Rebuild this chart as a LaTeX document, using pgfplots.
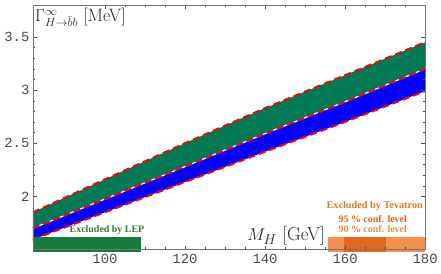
\documentclass[border=0pt]{standalone}
\usepackage{pgfplots}
\pgfplotsset{compat=1.18}
\usepackage{fontspec}
\newfontfamily\monof{Liberation Mono}
\newfontfamily\tnr{Liberation Serif}
\definecolor{bandgreen}{HTML}{007A55}
\definecolor{bandblue}{HTML}{0000FF}
\definecolor{lepgreen}{HTML}{167C3E}
\definecolor{leptext}{HTML}{2E7D3A}
\definecolor{tevlight}{HTML}{F2904C}
\definecolor{tevdark}{HTML}{E5661E}
\definecolor{tevtext}{HTML}{E07A22}
\definecolor{tev95}{HTML}{E85E1A}
\definecolor{tev90}{HTML}{F08848}
\begin{document}
\begin{tikzpicture}
\begin{axis}[
  scale only axis, width=393bp, height=245bp,
  xmin=82, xmax=180, ymin=1.5, ymax=3.8,
  xtick={100,120,140,160,180}, ytick={2,2.5,3,3.5},
  minor x tick num=3, minor y tick num=4,
  tick align=inside, major tick length=4bp, minor tick length=2.5bp,
  axis line style={black!55}, tick style={black!70},
  /pgf/number format/assume math mode=true,
  ticklabel style={font=\monof\fontsize{14}{15}\selectfont, text=black!70},
  xticklabel style={yshift=-1bp},
  yticklabel style={xshift=0bp},
  axis on top, clip=false,
]
% green band (mid to top)
\addplot[fill=bandgreen, draw=none] coordinates {
 (82,1.85) (100,2.16) (120,2.50) (140,2.83) (160,3.14) (180,3.45)
 (180,3.20) (160,2.89) (140,2.59) (120,2.28) (100,1.975) (82,1.70)} -- cycle;
% blue band (bottom to mid)
\addplot[fill=bandblue, draw=none] coordinates {
 (82,1.70) (100,1.975) (120,2.28) (140,2.59) (160,2.89) (180,3.20)
 (180,2.99) (160,2.70) (140,2.42) (120,2.135) (100,1.85) (82,1.595)} -- cycle;
% dark strip under the blue band at the far left
\addplot[fill=black, draw=none] coordinates {
 (82,1.565) (86,1.605) (82,1.60)} -- cycle;
% dashed edges
\addplot[red, line width=2bp, dash pattern=on 7bp off 4bp] coordinates {
 (82,1.85) (100,2.16) (120,2.50) (140,2.83) (160,3.14) (180,3.45)};
\addplot[white, line width=1.2bp] coordinates {
 (82,1.70) (100,1.975) (120,2.28) (140,2.59) (160,2.89) (180,3.20)};
\addplot[red, line width=2bp, dash pattern=on 7bp off 4bp] coordinates {
 (82,1.70) (100,1.975) (120,2.28) (140,2.59) (160,2.89) (180,3.20)};
\addplot[red, line width=2bp, dash pattern=on 7bp off 4bp] coordinates {
 (82,1.595) (100,1.85) (120,2.135) (140,2.42) (160,2.70) (180,2.99)};
% exclusion bars
\addplot[fill=lepgreen, draw=none] coordinates {(82,1.475) (109,1.475) (109,1.618) (82,1.618)} -- cycle;
\addplot[fill=tevlight, draw=none] coordinates {(155.8,1.475) (180,1.475) (180,1.618) (155.8,1.618)} -- cycle;
\addplot[fill=tevdark, draw=none] coordinates {(159.8,1.475) (170.2,1.475) (170.2,1.618) (159.8,1.618)} -- cycle;
% labels
\node[anchor=north west, inner sep=0pt, text=black!85, font=\fontsize{18}{20}\selectfont]
  at (axis cs:82,3.8) [xshift=2bp, yshift=-3bp] {$\Gamma^{\infty}_{H\to\bar{b}b}$ [MeV]};
\node[anchor=base east, inner sep=0pt, text=black!85, font=\fontsize{19}{21}\selectfont]
  at (axis cs:155,1.585) {$M_H$ [GeV]};
\node[text=leptext, font=\tnr\bfseries\fontsize{10}{11}\selectfont, inner sep=0pt]
  at (axis cs:100.5,1.68) {Excluded by LEP};
\node[text=tevtext, font=\tnr\bfseries\fontsize{10.3}{11}\selectfont, inner sep=0pt]
  at (axis cs:167.4,1.908) {Excluded by Tevatron};
\node[text=tev95, font=\tnr\bfseries\fontsize{10}{11}\selectfont, inner sep=0pt]
  at (axis cs:166.9,1.783) {95 \% conf. level};
\node[text=tev90, font=\tnr\bfseries\fontsize{10}{11}\selectfont, inner sep=0pt]
  at (axis cs:166.9,1.695) {90 \% conf. level};
\end{axis}
\path (current axis.south west) ++(-33bp,-24bp) coordinate (bbA);
\path (current axis.north east) ++(15bp,5bp) coordinate (bbB);
\path (bbA) rectangle (bbB);
\end{tikzpicture}
\end{document}
